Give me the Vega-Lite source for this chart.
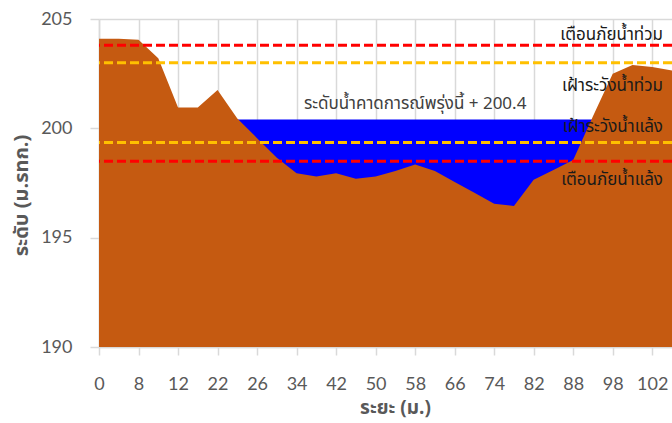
{
  "$schema": "https://vega.github.io/schema/vega-lite/v6.json",
  "width": 573,
  "height": 328,
  "autosize": "none",
  "padding": {"left": 99, "top": 19, "right": 0, "bottom": 76},
  "background": "white",
  "config": {
    "view": {"stroke": null},
    "font": "Lato, sans-serif"
  },
  "datasets": {
    "profile": [
      {"dist": 0, "ground": 204.1},
      {"dist": 4, "ground": 204.1},
      {"dist": 8, "ground": 204.05},
      {"dist": 10, "ground": 203.2},
      {"dist": 12, "ground": 200.95},
      {"dist": 18, "ground": 200.95},
      {"dist": 22, "ground": 201.75},
      {"dist": 24, "ground": 200.45, "water": 200.4},
      {"dist": 26, "ground": 199.55, "water": 200.4},
      {"dist": 30, "ground": 198.65, "water": 200.4},
      {"dist": 34, "ground": 197.95, "water": 200.4},
      {"dist": 38, "ground": 197.8, "water": 200.4},
      {"dist": 42, "ground": 197.95, "water": 200.4},
      {"dist": 46, "ground": 197.7, "water": 200.4},
      {"dist": 50, "ground": 197.8, "water": 200.4},
      {"dist": 54, "ground": 198.05, "water": 200.4},
      {"dist": 58, "ground": 198.35, "water": 200.4},
      {"dist": 62, "ground": 198.05, "water": 200.4},
      {"dist": 66, "ground": 197.55, "water": 200.4},
      {"dist": 70, "ground": 197.05, "water": 200.4},
      {"dist": 74, "ground": 196.55, "water": 200.4},
      {"dist": 78, "ground": 196.45, "water": 200.4},
      {"dist": 82, "ground": 197.65, "water": 200.4},
      {"dist": 85, "ground": 198.1, "water": 200.4},
      {"dist": 88, "ground": 198.55, "water": 200.4},
      {"dist": 93, "ground": 200.55, "water": 200.4},
      {"dist": 98, "ground": 202.5},
      {"dist": 100, "ground": 202.9},
      {"dist": 102, "ground": 202.8},
      {"dist": 106, "ground": 202.65}
    ],
    "levels": [
      {"name": "เตือนภัยน้ำท่วม", "kind": "warn", "level": 203.8, "labelY": 204.25},
      {"name": "เฝ้าระวังน้ำท่วม", "kind": "watch", "level": 203.0, "labelY": 201.95},
      {"name": "เฝ้าระวังน้ำแล้ง", "kind": "watch", "level": 199.35, "labelY": 200.05},
      {"name": "เตือนภัยน้ำแล้ง", "kind": "warn", "level": 198.5, "labelY": 197.65}
    ],
    "waterLabel": [
      {"dist": 58, "y": 201.1, "text": "ระดับน้ำคาดการณ์พรุ่งนี้ + 200.4"}
    ]
  },
  "encoding": {
    "x": {
      "field": "dist",
      "type": "ordinal",
      "sort": "ascending",
      "scale": {"type": "point", "padding": 0, "domain": [0, 4, 8, 10, 12, 18, 22, 24, 26, 30, 34, 38, 42, 46, 50, 54, 58, 62, 66, 70, 74, 78, 82, 85, 88, 93, 98, 100, 102, 106]},
      "axis": {
        "values": [0, 8, 12, 22, 26, 34, 42, 50, 58, 66, 74, 82, 88, 98, 102],
        "labelAngle": 0,
        "labelFont": "Lato, sans-serif",
        "labelFontSize": 18,
        "labelColor": "#595959",
        "labelPadding": 20,
        "tickSize": 8,
        "tickColor": "#d9d9d9",
        "tickWidth": 1.5,
        "domainColor": "#d9d9d9",
        "domainWidth": 1.5,
        "grid": true,
        "gridColor": "#d9d9d9",
        "gridWidth": 1.5,
        "title": "ระยะ (ม.)",
        "titleFont": "Noto Sans Thai, Tahoma, sans-serif",
        "titleFontSize": 19,
        "titleFontWeight": "bold",
        "titleColor": "#595959",
        "titlePadding": 5,
        "titleX": 296
      }
    }
  },
  "layer": [
    {
      "data": {"name": "profile"},
      "mark": {"type": "area", "color": "#0000FF", "interpolate": "linear"},
      "encoding": {
        "y": {
          "field": "water",
          "type": "quantitative",
          "scale": {"domain": [190, 205], "zero": false, "nice": false},
          "axis": {
            "values": [190, 195, 200, 205],
            "labelFont": "Lato, sans-serif",
            "labelFontSize": 18,
            "labelColor": "#595959",
            "labelPadding": 18,
            "tickSize": 9,
            "tickColor": "#d9d9d9",
            "tickWidth": 1.5,
            "domainColor": "#d9d9d9",
            "domainWidth": 1.5,
            "grid": true,
            "gridColor": "#d9d9d9",
            "gridWidth": 1.5,
            "title": "ระดับ (ม.รทก.)",
            "titleFont": "Noto Sans Thai, Tahoma, sans-serif",
            "titleFontSize": 20,
            "titleFontWeight": "bold",
            "titleColor": "#595959",
            "titlePadding": 9,
            "titleY": 176
          }
        },
        "y2": {"datum": 190}
      }
    },
    {
      "data": {"name": "profile"},
      "mark": {"type": "area", "color": "#C55A11", "interpolate": "linear"},
      "encoding": {
        "y": {"field": "ground", "type": "quantitative"},
        "y2": {"datum": 190}
      }
    },
    {
      "data": {"name": "levels"},
      "mark": {"type": "rule", "strokeWidth": 3, "strokeDash": [9, 4]},
      "encoding": {
        "x": null,
        "y": {"field": "level", "type": "quantitative"},
        "color": {
          "field": "kind",
          "type": "nominal",
          "scale": {"domain": ["warn", "watch"], "range": ["#FF0000", "#FFC000"]},
          "legend": null
        }
      }
    },
    {
      "data": {"name": "levels"},
      "mark": {"type": "text", "align": "right", "baseline": "middle", "font": "Noto Sans Thai, Tahoma, sans-serif", "fontSize": 17, "color": "#1a1a1a", "dx": -9},
      "encoding": {
        "x": {"datum": 106},
        "y": {"field": "labelY", "type": "quantitative"},
        "text": {"field": "name"}
      }
    },
    {
      "data": {"name": "waterLabel"},
      "mark": {"type": "text", "align": "center", "baseline": "middle", "font": "Noto Sans Thai, Tahoma, sans-serif", "fontSize": 17, "color": "#404040"},
      "encoding": {
        "y": {"field": "y", "type": "quantitative"},
        "text": {"field": "text"}
      }
    }
  ]
}
